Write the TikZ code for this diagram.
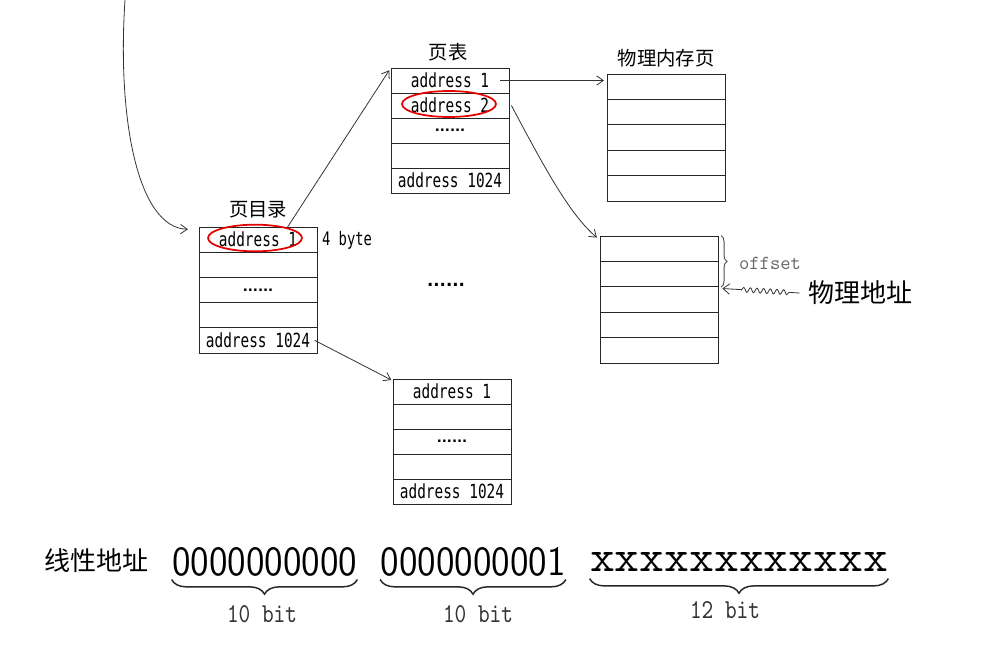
\documentclass[tikz,border=0pt]{standalone}
\usepackage{fontspec}
\usepackage{graphicx}
\usetikzlibrary{arrows.meta,decorations.pathreplacing,decorations.pathmorphing,shapes.geometric,calc}
\newfontfamily\cjk{Noto Sans CJK SC}
\newfontfamily\addrfont{DejaVu Sans Mono}[FakeStretch=0.74]
\newfontfamily\dotfont{DejaVu Sans}
\newcommand\tdots{{\dotfont\bfseries\fontsize{10}{10}\selectfont ......}}
\begin{document}
\begin{tikzpicture}[x=0.75pt,y=-0.75pt,
  line width=0.6pt,
  cell/.style={draw=black!85, line width=0.6pt, minimum width=88.5pt, minimum height=#1, inner sep=0pt,
    font=\addrfont\fontsize{14.6}{15}\selectfont},
  cell/.default=18.9pt,
  redell/.style={draw=red!90!black, line width=1.3pt, ellipse, minimum width=70.5pt, minimum height=20pt, inner sep=0pt},
  cjktitle/.style={inner sep=0pt, font=\cjk\fontsize{14.5}{15}\selectfont},
  cjkbig/.style={inner sep=0pt, font=\cjk\fontsize{19.5}{20}\selectfont},
  conn/.style={draw=black!80, line width=0.6pt, -{Straight Barb[length=5pt,width=7pt]}},
  bracebot/.style={draw=black!85, line width=1.1pt, decorate, decoration={brace, mirror, amplitude=11pt}},
  lbl/.style={inner sep=0pt, text=black!80},
]
\useasboundingbox (0,0) rectangle (1004,660);

% page directory
\node[cjktitle] (pdt) at (258,210) {页目录};
\foreach \i/\t in {1/address 1,2/,3/\tdots,4/,5/address 1024}
  \node[cell] (pd\i) at (258,{227+25.2*(\i-0.5)}) {\t};
\node[redell] (e1) at (255,238) {};
\node[inner sep=0pt, font=\addrfont\fontsize{14}{14}\selectfont] (byte) at (347,240) {4 byte};

% page table
\node[cjktitle] (ptt) at (448,52) {页表};
\foreach \i/\t in {1/address 1,2/address 2,3/\tdots,4/,5/address 1024}
  \node[cell=18.75pt] (pt\i) at (450,{68+25*(\i-0.5)}) {\t};
\node[redell, minimum height=19.5pt] (e2) at (449,104) {};

% physical memory page
\node[cjktitle] (pmt) at (666,58) {物理内存页};
\foreach \i in {1,...,5}
  \node[cell=19.05pt] (pm\i) at (666,{74+25.4*(\i-0.5)}) {};

% second physical page
\foreach \i in {1,...,5}
  \node[cell=19.05pt] (pq\i) at (659,{236+25.4*(\i-0.5)}) {};

% bottom page table
\foreach \i/\t in {1/address 1,2/,3/\tdots,4/,5/address 1024}
  \node[cell=18.75pt] (bt\i) at (452,{379+25*(\i-0.5)}) {\t};

% middle dots
\node[inner sep=0pt, font=\dotfont\bfseries\fontsize{12.5}{12}\selectfont] (mid) at (446,285) {......};

% offset brace and physical address
\draw[draw=black!70, line width=0.7pt, decorate, decoration={brace, amplitude=4.5pt}]
  ([xshift=2pt]pq1.north east) -- ([xshift=2pt]pq2.south east);
\node[inner sep=0pt, text=black!60, font=\ttfamily\fontsize{15}{15}\selectfont] (off) at (770,263) {offset};
\node[cjkbig] (phys) at (860,293) {物理地址};
\draw[draw=black!80, line width=0.6pt, -{Straight Barb[length=5pt,width=8pt]},
  decorate, decoration={snake, amplitude=1.8pt, segment length=5pt, pre length=8pt, post length=14pt}]
  ([xshift=-6pt]phys.west) -- ([xshift=3pt,yshift=-1pt]pq2.south east);

% connectors
\coordinate (src) at (125,0);
\draw[conn] (src) .. controls (117,120) and (138,228) .. ([xshift=-8pt,yshift=-2pt]pd1.north west);
\draw[conn] (e1.18) -- ([xshift=-1pt,yshift=-2pt]pt1.north west);
\draw[conn] ([xshift=-7pt]pt1.east) -- ([xshift=-2pt]pt1.east -| pm1.west);
\draw[conn] ([xshift=1.5pt]pt2.east) .. controls +(34,64) and +(-27,-23) .. ([xshift=-2pt,yshift=-1.5pt]pq1.north west);
\draw[conn] ([xshift=-2pt]pd5.east) -- ([xshift=-1pt,yshift=-1pt]bt1.north west);

% linear address
\node[cjkbig] (lin) at (97,561) {线性地址};
\node[inner sep=0pt] (g1) at (264.5,562) {\resizebox{138.75pt}{21pt}{\sffamily 0000000000}};
\node[inner sep=0pt] (g2) at (473,562) {\resizebox{138.75pt}{21pt}{\sffamily 0000000001}};
\node[inner sep=0pt] (g3) at (739,562) {\resizebox{223.5pt}{14.25pt}{\ttfamily xxxxxxxxxxxx}};
\draw[bracebot] ([yshift=-2pt]g1.south west) -- ([yshift=-2pt]g1.south east);
\draw[bracebot] ([yshift=-2pt]g2.south west) -- ([yshift=-2pt]g2.south east);
\draw[bracebot] ([yshift=-5pt]g3.south west) -- ([yshift=-5pt]g3.south east);
\node[lbl] (l1) at (262,614) {\resizebox{52.5pt}{12.75pt}{\ttfamily 10 bit}};
\node[lbl] (l2) at (478,614) {\resizebox{52.5pt}{12.75pt}{\ttfamily 10 bit}};
\node[lbl] (l3) at (725,610) {\resizebox{52.5pt}{12.75pt}{\ttfamily 12 bit}};
\end{tikzpicture}
\end{document}
